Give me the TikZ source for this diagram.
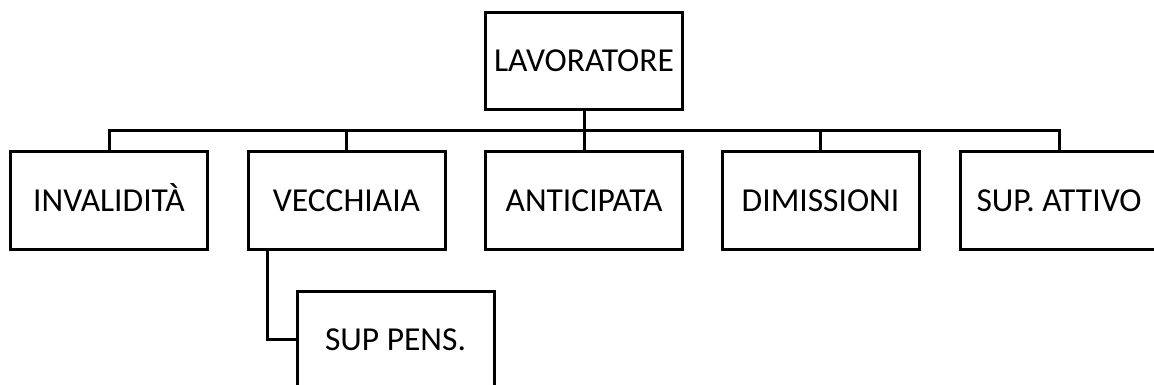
\documentclass[tikz,border=0pt]{standalone}
\usepackage{fontspec}
\setmainfont{Carlito}
\usetikzlibrary{positioning}

\begin{document}
\begin{tikzpicture}[x=1pt,y=-1pt,line width=3pt,
  voce/.style={draw,rectangle,minimum width=197pt,minimum height=97pt,
    inner sep=0pt,text height=21.5pt,text depth=0pt,
    font=\fontsize{33.5}{40}\selectfont}]
\clip (0,0) rectangle (1154,385);
\node[voce] (lav) at (584,61) {LAVORATORE};
\node[voce] (inv) at (109,200.5) {INVALIDITÀ};
\node[voce] (vec) at (346.5,200.5) {VECCHIAIA};
\node[voce] (ant) at (584,200.5) {ANTICIPATA};
\node[voce] (dim) at (820.5,200.5) {DIMISSIONI};
\node[voce] (att) at (1059,200.5) {SUP. ATTIVO};
\node[voce] (pens) at (395.5,339.5) {SUP PENS.};
\coordinate (bus) at (584,130.5);
\draw (lav.south) -- (bus);
\foreach \n in {inv,vec,ant,dim,att}
  \draw (bus) -| (\n.north);
\draw ([xshift=-79.5pt]vec.south) |- (pens.west);
\end{tikzpicture}
\end{document}
